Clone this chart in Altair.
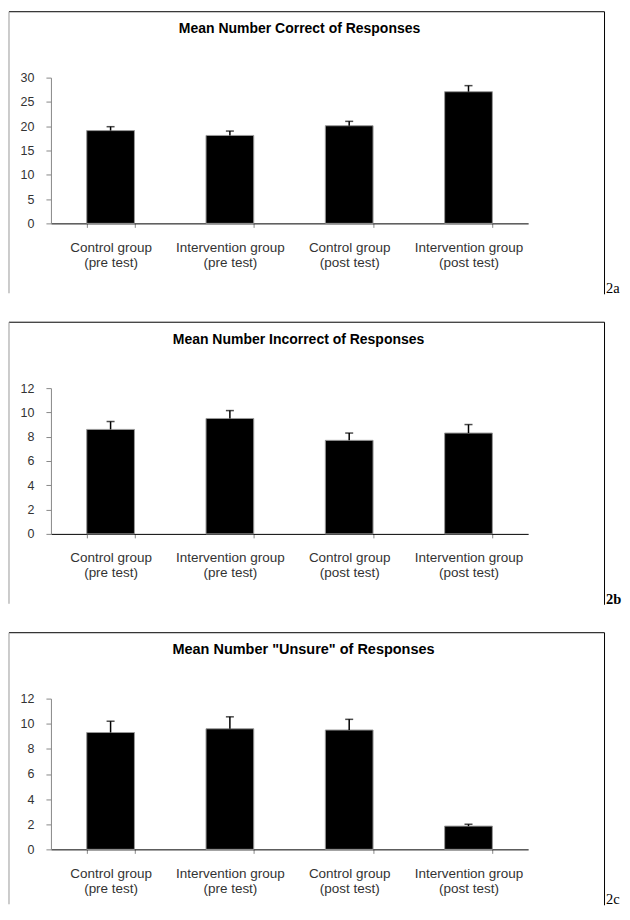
import altair as alt
import pandas as pd

categories = [
    "Control group|(pre test)",
    "Intervention group|(pre test)",
    "Control group|(post test)",
    "Intervention group|(post test)",
]
correct_mean = [19.1, 18.1, 20.1, 27.1]
correct_upper = [19.9, 19.0, 21.0, 28.35]
incorrect_mean = [8.6, 9.5, 7.7, 8.3]
incorrect_upper = [9.25, 10.15, 8.3, 9.0]
unsure_mean = [9.3, 9.6, 9.5, 1.85]
unsure_upper = [10.2, 10.55, 10.35, 2.0]

titles = [
    "Mean Number Correct of Responses",
    "Mean Number Incorrect of Responses",
    'Mean Number "Unsure" of Responses',
]
tags = ["2a", "2b", "2c"]
y_max = [30, 12, 12]
y_step = [5, 2, 2]

FONT = "Liberation Sans"
W = 478
RIGHT = 554.5


def panel(means, uppers, title, tag, ymax, step, height, title_x, title_y,
          title_size, tag_bold, bottom_ext):
    df = pd.DataFrame({"cat": categories, "mean": means, "upper": uppers})
    base = alt.Chart(df)
    x_axis = alt.Axis(
        title=None,
        labelAngle=0,
        labelExpr="split(datum.label, '|')",
        tickBand="extent",
        domainColor="black",
        tickColor="#888888",
        tickSize=4,
        labelPadding=13,
        labelFont=FONT,
        labelFontSize=13.5,
        labelColor="#333333",
        labelLineHeight=15,
        labelBaseline="top",
        labelOverlap=False,
    )
    y_axis = alt.Axis(
        title=None,
        values=[float(v) for v in range(0, ymax + 1, step)],
        tickCount=len(range(0, ymax + 1, step)),
        grid=False,
        domainColor="#888888",
        tickColor="#888888",
        tickSize=5,
        labelPadding=12,
        labelFont=FONT,
        labelFontSize=12.5,
        labelColor="#333333",
        labelOverlap=False,
    )
    x_scale = alt.Scale(paddingInner=0.6, paddingOuter=0.3)
    y_scale = alt.Scale(domain=[0, ymax], nice=False)

    def xe():
        return alt.X("cat:N", sort=categories, scale=x_scale, axis=x_axis)

    bars = base.mark_bar(color="black", stroke="#999999", strokeWidth=1).encode(
        x=xe(), y=alt.Y("mean:Q", scale=y_scale, axis=y_axis)
    )
    err = base.mark_rule(color="black", strokeWidth=1.5).encode(
        x=xe(), y=alt.Y("mean:Q", scale=y_scale, axis=y_axis), y2="upper:Q"
    )
    cap = base.mark_tick(color="black", thickness=1.5, size=8, orient="horizontal").encode(
        x=xe(), y=alt.Y("upper:Q", scale=y_scale, axis=y_axis)
    )
    one = alt.Chart(pd.DataFrame({"d": [0]}))
    top_rule = one.mark_rule(color="black", strokeWidth=1).encode(
        x=alt.value(-42), x2=alt.value(RIGHT), y=alt.value(-66)
    )
    left_rule = one.mark_rule(color="#999999", strokeWidth=1).encode(
        x=alt.value(-42), y=alt.value(-66), y2=alt.value(height + bottom_ext)
    )
    right_rule = one.mark_rule(color="black", strokeWidth=1).encode(
        x=alt.value(RIGHT), y=alt.value(-66), y2=alt.value(height + bottom_ext + 1)
    )
    title_text = one.mark_text(
        font=FONT, fontSize=title_size, fontWeight="bold", align="center",
        baseline="middle", color="black",
    ).encode(x=alt.value(title_x), y=alt.value(title_y), text=alt.value(title))
    tag_text = one.mark_text(
        font="Liberation Serif", fontSize=14.5, align="left", baseline="alphabetic",
        fontWeight="bold" if tag_bold else "normal", color="black",
    ).encode(x=alt.value(RIGHT + 1.5), y=alt.value(height + bottom_ext), text=alt.value(tag))
    return alt.layer(
        bars, err, cap, top_rule, left_rule, right_rule, title_text, tag_text
    ).properties(width=W, height=height)


p1 = panel(correct_mean, correct_upper, titles[0], tags[0], y_max[0], y_step[0],
           146, 249, -49, 14, False, 70)
p2 = panel(incorrect_mean, incorrect_upper, titles[1], tags[1], y_max[1], y_step[1],
           146, 248, -48, 14, True, 70)
p3 = panel(unsure_mean, unsure_upper, titles[2], tags[2], y_max[2], y_step[2],
           151, 253, -49, 14.5, False, 55)

chart = (
    alt.vconcat(p1, p2, p3, spacing=25)
    .properties(padding={"left": 0, "top": 2, "right": 0, "bottom": 0})
    .configure_view(strokeWidth=0)
)

chart.save("out.html", embed_options={"renderer": "svg", "actions": False})
